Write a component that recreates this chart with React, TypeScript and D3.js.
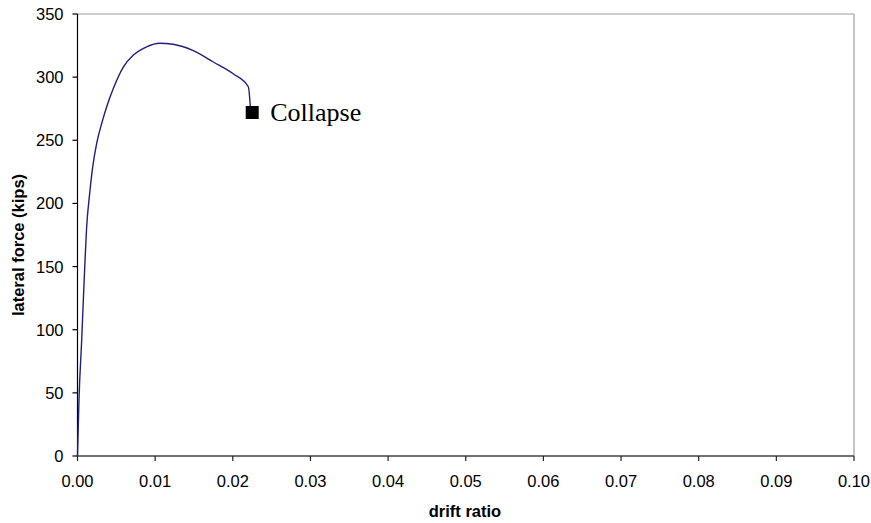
import React from "react";
import * as d3 from "d3";

// pushover curve
const drift = [0, 0.00019, 0.00054, 0.00075, 0.00097, 0.00118, 0.00152, 0.00196, 0.00247, 0.00312, 0.00376, 0.00461, 0.0059, 0.0072, 0.0089, 0.0106, 0.0123, 0.0149, 0.0175, 0.0201, 0.022, 0.0223];
const force = [0, 44.3, 91.8, 123.5, 155, 181.5, 205, 229, 247.5, 263.4, 276.6, 291, 308, 317.5, 324, 326.8, 326, 321, 312, 302.5, 292.4, 272.6];

const collapseDrift = 0.0225;
const collapseForce = 272;
const collapseLabel = "Collapse";

const xTicks = [0, 0.01, 0.02, 0.03, 0.04, 0.05, 0.06, 0.07, 0.08, 0.09, 0.1];
const yTicks = [0, 50, 100, 150, 200, 250, 300, 350];

const W = 871;
const H = 523;
const margin = { top: 14, right: 17, bottom: 67, left: 77.5 };

export default function App() {
  const x = d3.scaleLinear().domain([0, 0.1]).range([margin.left, W - margin.right]);
  const y = d3.scaleLinear().domain([0, 350]).range([H - margin.bottom, margin.top]);

  const pts = drift.map((d, i) => [d, force[i]] as [number, number]);
  const line = d3
    .line<[number, number]>()
    .x((d) => x(d[0]))
    .y((d) => y(d[1]))
    .curve(d3.curveMonotoneX);

  const x0 = x(0);
  const x1 = x(0.1);
  const y0 = y(0);
  const y1 = y(350);
  const font = "Arial, 'Liberation Sans', sans-serif";

  return (
    <svg
      width={W}
      height={H}
      style={{ position: "absolute", left: 0, top: 0, background: "#fff" }}
    >
      {/* frame */}
      <line x1={x0} x2={x1} y1={y1} y2={y1} stroke="#a0a0a0" strokeWidth={1.2} />
      <line x1={x1} x2={x1} y1={y1} y2={y0} stroke="#a0a0a0" strokeWidth={1.2} />

      {/* y axis */}
      <line x1={x0} x2={x0} y1={y1} y2={y0} stroke="#000" strokeWidth={1.2} />
      {yTicks.map((t) => (
        <g key={"y" + t}>
          <line x1={x0 - 5} x2={x0} y1={y(t)} y2={y(t)} stroke="#000" strokeWidth={1.2} />
          <text
            x={x0 - 14}
            y={y(t)}
            dy="0.36em"
            textAnchor="end"
            fontFamily={font}
            fontSize={16.5}
          >
            {t}
          </text>
        </g>
      ))}

      {/* x axis */}
      <line x1={x0} x2={x1} y1={y0} y2={y0} stroke="#444" strokeWidth={1.3} />
      {xTicks.map((t) => (
        <g key={"x" + t}>
          <line x1={x(t)} x2={x(t)} y1={y0} y2={y0 + 5} stroke="#222" strokeWidth={1.2} />
          <text
            x={x(t)}
            y={487}
            textAnchor="middle"
            fontFamily={font}
            fontSize={16.5}
          >
            {t.toFixed(2)}
          </text>
        </g>
      ))}

      {/* curve */}
      <path d={line(pts) || ""} fill="none" stroke="#1f1f80" strokeWidth={1.4} />

      {/* collapse marker */}
      <rect
        x={x(collapseDrift) - 6.5}
        y={y(collapseForce) - 6.5}
        width={13}
        height={13}
        fill="#000"
      />
      <text
        x={x(collapseDrift) + 18}
        y={y(collapseForce) + 8.5}
        fontFamily="'Liberation Serif', 'Times New Roman', serif"
        fontSize={26}
      >
        {collapseLabel}
      </text>

      {/* axis titles */}
      <text
        x={465}
        y={517}
        textAnchor="middle"
        fontFamily={font}
        fontWeight="bold"
        fontSize={16.5}
      >
        drift ratio
      </text>
      <text
        transform="translate(24,245) rotate(-90)"
        textAnchor="middle"
        fontFamily={font}
        fontWeight="bold"
        fontSize={16.5}
      >
        lateral force (kips)
      </text>
    </svg>
  );
}
